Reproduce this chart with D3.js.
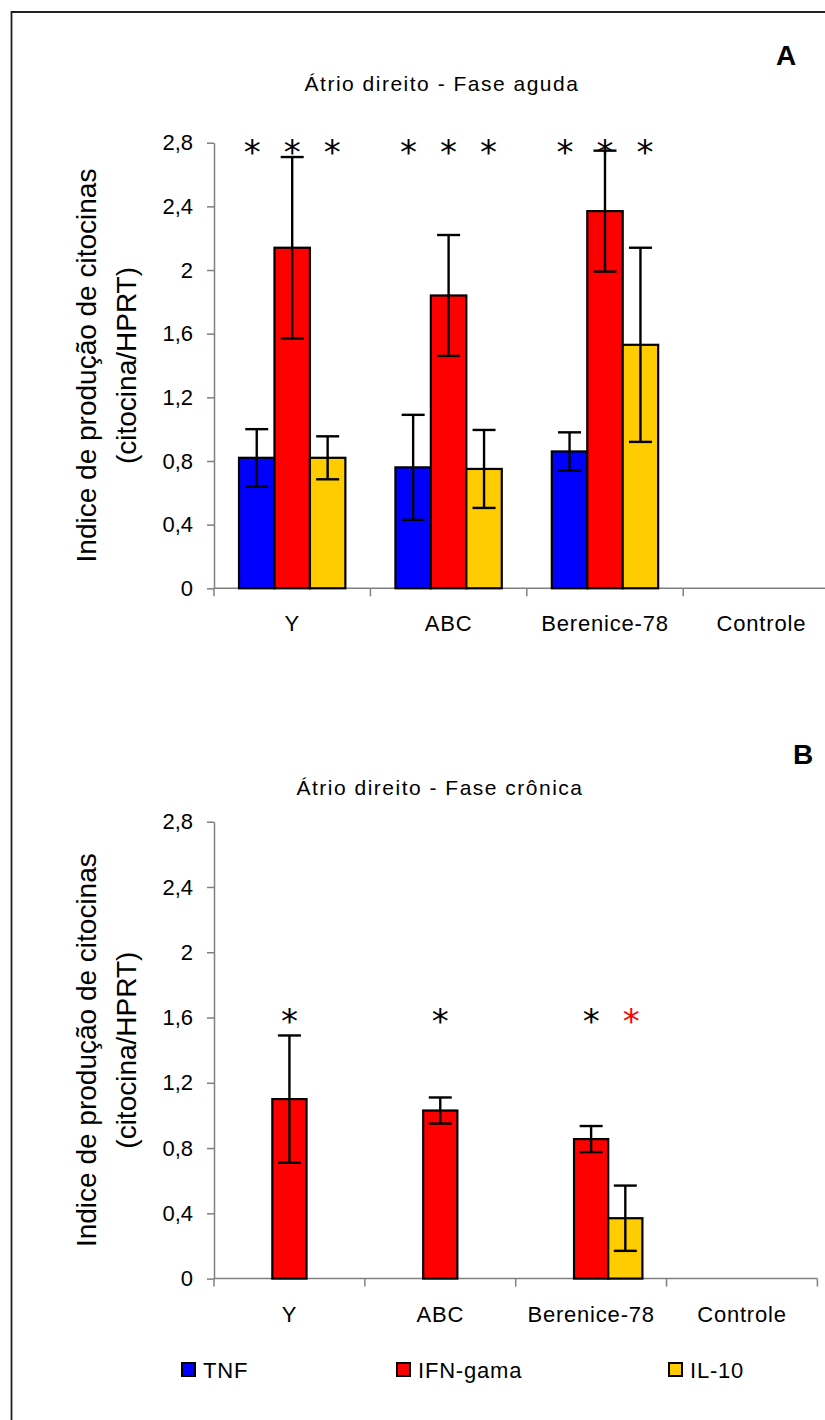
<!DOCTYPE html>
<html>
<head>
<meta charset="utf-8">
<script src="https://cdn.jsdelivr.net/npm/d3@7"></script>
<style>
  body { margin: 0; background: #fff; }
  text { font-family: "Liberation Sans", Arial, sans-serif; }
</style>
</head>
<body>
<div id="chart"></div>
<script>
var categories = ["Y", "ABC", "Berenice-78", "Controle"];
var seriesNames = ["TNF", "IFN-gama", "IL-10"];
var seriesColors = ["#0000ff", "#ff0000", "#ffcc00"];
var yTicks = [0, 0.4, 0.8, 1.2, 1.6, 2, 2.4, 2.8];

// A - fase aguda (mean and sd)
var tnfA = [0.82, 0.76, 0.86, null];
var ifnA = [2.14, 1.84, 2.37, null];
var il10A = [0.82, 0.75, 1.53, null];
var tnfSdA = [0.18, 0.33, 0.12, null];
var ifnSdA = [0.57, 0.38, 0.38, null];
var il10SdA = [0.135, 0.245, 0.61, null];
// k = black star, r = red star
var starsA = [["k", "k", "k"], ["k", "k", "k"], ["k", "k", "k"], [null, null, null]];

// B - fase cronica
var tnfB = [null, null, null, null];
var ifnB = [1.10, 1.03, 0.855, null];
var il10B = [null, null, 0.37, null];
var tnfSdB = [null, null, null, null];
var ifnSdB = [0.39, 0.08, 0.08, null];
var il10SdB = [null, null, 0.20, null];
var starsB = [[null, "k", null], [null, "k", null], [null, "k", "r"], [null, null, null]];

var W = 825, H = 1420;
var svg = d3.select("#chart").append("svg")
    .attr("width", W)
    .attr("height", H);

// outer frame (only left and top edges are inside the picture)
svg.append("path")
    .attr("d", "M11.5," + H + "V12H" + W)
    .attr("fill", "none")
    .attr("stroke", "#222")
    .attr("stroke-width", 1.8);

var fmt = d => String(d).replace(".", ",");

function drawPanel(p) {
    var g = svg.append("g");

    var x = d3.scaleBand()
        .domain(categories)
        .range([p.left, p.left + p.band * categories.length]);
    var gw = x.bandwidth() * 0.68;
    var x1 = d3.scaleBand()
        .domain(seriesNames)
        .range([(x.bandwidth() - gw) / 2, (x.bandwidth() + gw) / 2]);
    var y = d3.scaleLinear()
        .domain([0, 2.8])
        .range([p.bottom, p.top]);

    // y axis
    var ya = g.append("g")
        .attr("transform", "translate(" + p.left + ",0)")
        .call(d3.axisLeft(y).tickValues(yTicks).tickSize(7).tickSizeOuter(0)
            .tickPadding(14).tickFormat(fmt));
    ya.select(".domain").attr("stroke", "#808080").attr("stroke-width", 1.5);
    ya.selectAll(".tick line").attr("stroke", "#808080").attr("stroke-width", 1.5);
    ya.selectAll(".tick text")
        .attr("fill", "#000")
        .style("font-size", "22px")
        .style("font-family", "'Liberation Sans', Arial, sans-serif");

    // x axis with ticks between categories
    var xr = x.range();
    g.append("line")
        .attr("x1", xr[0]).attr("x2", xr[1])
        .attr("y1", y(0)).attr("y2", y(0))
        .attr("stroke", "#808080").attr("stroke-width", 1.5);
    var bounds = categories.map(c => x(c)).concat([xr[1]]);
    g.selectAll("line.xtick")
        .data(bounds)
        .join("line")
        .attr("class", "xtick")
        .attr("x1", d => d).attr("x2", d => d)
        .attr("y1", y(0)).attr("y2", y(0) + 8)
        .attr("stroke", "#808080").attr("stroke-width", 1.5);
    g.selectAll("text.cat")
        .data(categories)
        .join("text")
        .attr("class", "cat")
        .attr("x", d => x(d) + x.bandwidth() / 2)
        .attr("y", y(0) + 43)
        .attr("text-anchor", "middle")
        .style("font-size", "22px")
        .style("letter-spacing", "0.8px")
        .text(d => d);

    // bars
    var rows = [];
    categories.forEach((c, ci) => seriesNames.forEach((s, si) => {
        var v = p.values[si][ci];
        if (v != null) rows.push({ c: c, s: s, si: si, v: v, sd: p.sds[si][ci] });
    }));
    g.selectAll("rect.bar")
        .data(rows)
        .join("rect")
        .attr("class", "bar")
        .attr("x", d => x(d.c) + x1(d.s))
        .attr("width", x1.bandwidth())
        .attr("y", d => y(d.v))
        .attr("height", d => y(0) - y(d.v))
        .attr("fill", d => seriesColors[d.si])
        .attr("stroke", "#000")
        .attr("stroke-width", 2.2);

    // error bars
    var cap = 11.5;
    var eb = g.selectAll("g.err")
        .data(rows.filter(d => d.sd != null))
        .join("g")
        .attr("class", "err")
        .attr("transform", d => "translate(" + (x(d.c) + x1(d.s) + x1.bandwidth() / 2) + ",0)")
        .attr("stroke", "#000")
        .attr("stroke-width", 2.4);
    eb.append("line")
        .attr("y1", d => y(d.v + d.sd)).attr("y2", d => y(d.v - d.sd));
    eb.append("line")
        .attr("x1", -cap).attr("x2", cap)
        .attr("y1", d => y(d.v + d.sd)).attr("y2", d => y(d.v + d.sd));
    eb.append("line")
        .attr("x1", -cap).attr("x2", cap)
        .attr("y1", d => y(d.v - d.sd)).attr("y2", d => y(d.v - d.sd));

    // significance stars
    var st = [];
    p.stars.forEach((row, ci) => row.forEach((k, si) => {
        if (k) st.push({ c: categories[ci], si: si, k: k });
    }));
    g.selectAll("text.star")
        .data(st)
        .join("text")
        .attr("class", "star")
        .attr("x", d => x(d.c) + x.bandwidth() / 2 + (d.si - 1) * 40)
        .attr("y", y(p.starLevel) + 20)
        .attr("text-anchor", "middle")
        .attr("fill", d => d.k === "r" ? "#ff0000" : "#000")
        .style("font-family", "'DejaVu Sans', sans-serif")
        .style("font-size", "34px")
        .text("*");

    // titles
    g.append("text")
        .attr("x", p.titleX).attr("y", p.titleY)
        .attr("text-anchor", "middle")
        .style("font-size", "21px")
        .style("letter-spacing", "1.5px")
        .text(p.title);
    g.append("text")
        .attr("x", p.letterX).attr("y", p.letterY)
        .attr("text-anchor", "middle")
        .style("font-size", "28px")
        .style("font-weight", "bold")
        .text(p.letter);

    var mid = (p.top + p.bottom) / 2;
    g.append("text")
        .attr("transform", "translate(96," + mid + ") rotate(-90)")
        .attr("text-anchor", "middle")
        .style("font-size", "28px")
        .text("Indice de produção de citocinas");
    g.append("text")
        .attr("transform", "translate(136," + mid + ") rotate(-90)")
        .attr("text-anchor", "middle")
        .style("font-size", "28px")
        .text("(citocina/HPRT)");
}

drawPanel({
    title: "Átrio direito - Fase aguda", letter: "A",
    top: 142.7, bottom: 588.3, left: 214, band: 156.4,
    titleX: 442, titleY: 91, letterX: 786, letterY: 65,
    values: [tnfA, ifnA, il10A], sds: [tnfSdA, ifnSdA, il10SdA],
    stars: starsA, starLevel: 2.79
});

drawPanel({
    title: "Átrio direito - Fase crônica", letter: "B",
    top: 821.7, bottom: 1278.6, left: 214, band: 150.85,
    titleX: 440, titleY: 795, letterX: 803, letterY: 764,
    values: [tnfB, ifnB, il10B], sds: [tnfSdB, ifnSdB, il10SdB],
    stars: starsB, starLevel: 1.63
});

// legend
var legendX = [182, 397, 669];
var lg = svg.append("g")
    .selectAll("g")
    .data(seriesNames)
    .join("g")
    .attr("transform", (d, i) => "translate(" + legendX[i] + ",1363)");
lg.append("rect")
    .attr("width", 13).attr("height", 13)
    .attr("fill", (d, i) => seriesColors[i])
    .attr("stroke", "#000").attr("stroke-width", 2);
lg.append("text")
    .attr("x", 21).attr("y", 14.5)
    .style("font-size", "22px")
    .style("letter-spacing", "0.8px")
    .text(d => d);
</script>
</body>
</html>
